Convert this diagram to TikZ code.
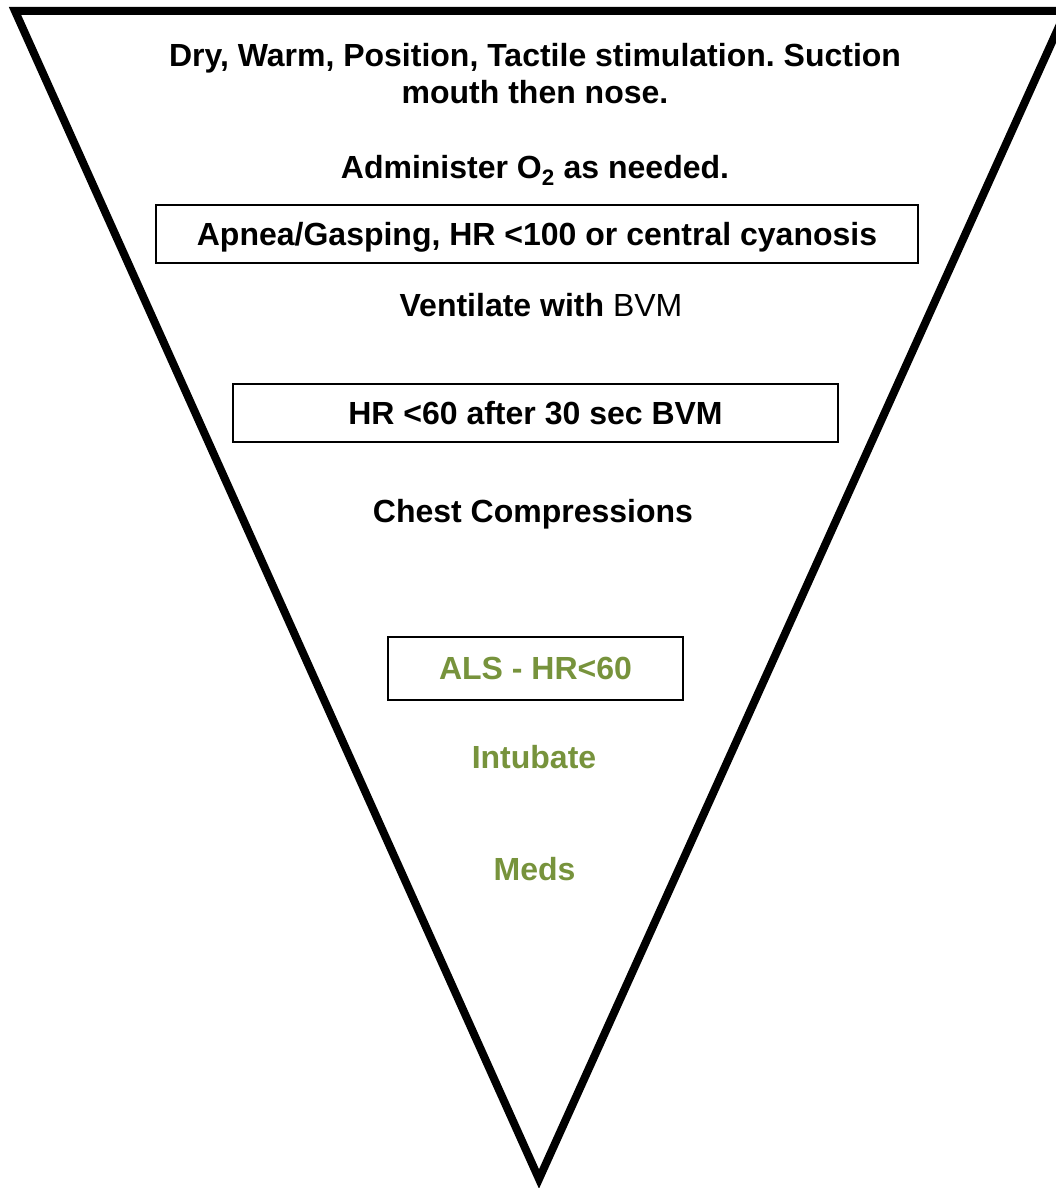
\documentclass[tikz,border=0pt]{standalone}
\usepackage{fontspec}
\setmainfont{Liberation Sans}
\frenchspacing
\definecolor{olivegreen}{RGB}{119,147,60}
\begin{document}
\begin{tikzpicture}[x=1pt,y=-1pt,
  lbl/.style={font=\fontsize{32}{37}\selectfont\bfseries, anchor=base, inner sep=0pt, align=center},
  stepbox/.style={draw=black, line width=1.8pt, inner sep=0pt, text height=22pt, text depth=0pt,
    font=\fontsize{32}{37}\selectfont\bfseries},
  greentext/.style={text=olivegreen}]
\useasboundingbox (0,0) rectangle (1055,1188);
% funnel (inverted triangle)
\draw[line width=8pt, line join=miter] (15,11) -- (1066,11) -- (539,1179) -- cycle;
% texts
\node[lbl] (t1) at (535,104) {Dry, Warm, Position, Tactile stimulation. Suction\\mouth then nose.};
\node[lbl] (t2) at (535,178) {Administer O\textsubscript{2} as needed.};
\node[stepbox, minimum width=762pt, minimum height=58pt] (b1) at (537,234) {Apnea/Gasping, HR <100 or central cyanosis};
\node[lbl] (t3) at (541,316) {Ventilate with \mdseries BVM};
\node[stepbox, minimum width=605pt, minimum height=58pt] (b2) at (535.5,413) {HR <60 after 30 sec BVM};
\node[lbl] (t4) at (533,522) {Chest Compressions};
\node[stepbox, greentext, minimum width=295pt, minimum height=63pt] (b3) at (535.5,668.5) {ALS - HR<60};
\node[lbl, greentext] (t5) at (534,768) {Intubate};
\node[lbl, greentext] (t6) at (534.5,880) {Meds};
\end{tikzpicture}
\end{document}
